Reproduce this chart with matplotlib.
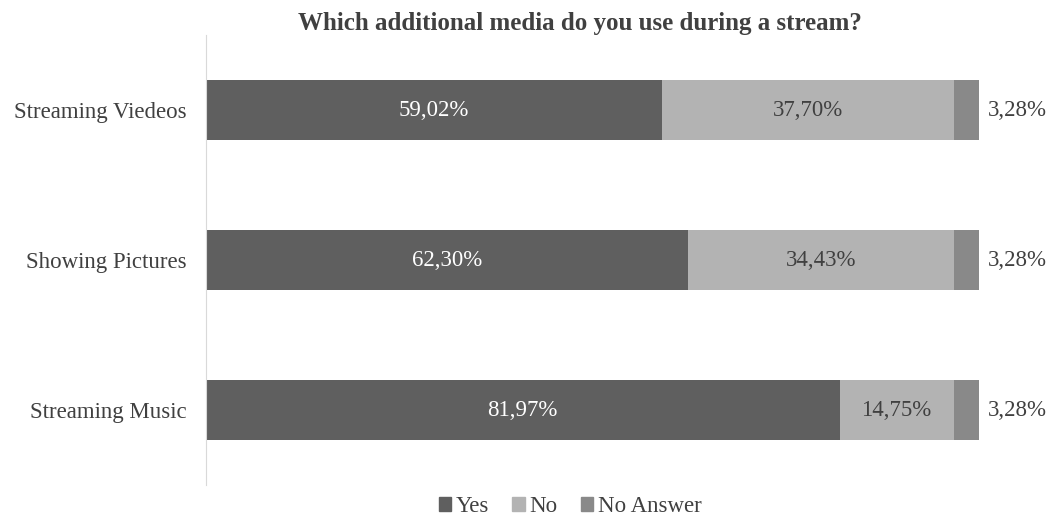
import matplotlib.pyplot as plt
from matplotlib.patches import Patch

plt.rcParams['font.family'] = ['Liberation Serif', 'DejaVu Serif']

# survey answers, bottom to top
categories = ["Streaming Music", "Showing Pictures", "Streaming Viedeos"]
yes = [81.97, 62.30, 59.02]
no = [14.75, 34.43, 37.70]
no_answer = [3.28, 3.28, 3.28]

series_names = ["Yes", "No", "No Answer"]
colors = ["#5f5f5f", "#b3b3b3", "#898989"]
text_colors = ["white", "#404040", "#404040"]


def pct(v):
    return f"{v:.2f}%".replace(".", ",")


fig = plt.figure(figsize=(10.52, 5.18), dpi=100)
ax = fig.add_axes([0.1958, 0.0637, 0.7348, 0.8687])

ypos = range(len(categories))
left = [0.0] * len(categories)
for i, (vals, col) in enumerate(zip([yes, no, no_answer], colors)):
    ax.barh(ypos, vals, left=left, height=0.4, color=col, label=series_names[i])
    for y, v, l in zip(ypos, vals, left):
        if i < 2:
            ax.text(l + v / 2, y, pct(v), ha="center", va="center",
                    fontsize=16.5, color=text_colors[i])
        else:
            ax.text(l + v + 1.2, y, pct(v), ha="left", va="center",
                    fontsize=16.5, color="#404040")
    left = [a + b for a, b in zip(left, vals)]

ax.set_xlim(0, 100)
ax.set_ylim(-0.5, 2.5)
ax.set_yticks(list(ypos))
ax.set_yticklabels(categories, fontsize=16.5, color="#404040")
ax.tick_params(axis="y", length=0, pad=14)
ax.set_xticks([])
for s in ["top", "right", "bottom"]:
    ax.spines[s].set_visible(False)
ax.spines["left"].set_color("#d9d9d9")

fig.text(0.551, 0.955, "Which additional media do you use during a stream?",
         ha="center", va="center", fontsize=18, fontweight="bold", color="#404040")

handles = [Patch(color=c) for c in colors]
fig.legend(handles, series_names, loc="center", bbox_to_anchor=(0.542, 0.022),
           ncol=3, frameon=False, fontsize=16.5, handlelength=0.55, handleheight=0.55,
           handletextpad=0.2, columnspacing=1.0, labelcolor="#404040")

fig.savefig("out.png", dpi=100)
